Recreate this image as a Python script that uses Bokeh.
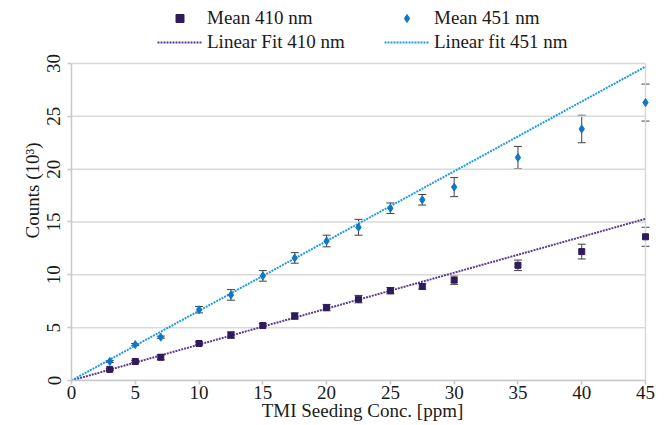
from bokeh.plotting import figure
from bokeh.models import (ColumnDataSource, Whisker, TeeHead, Legend, LegendItem,
                          Range1d, FixedTicker)
from bokeh.embed import file_html
from bokeh.resources import INLINE

conc = [3, 5, 7, 10, 12.5, 15, 17.5, 20, 22.5, 25, 27.5, 30, 35, 40, 45]
mean_410 = [1.05, 1.8, 2.2, 3.5, 4.3, 5.2, 6.1, 6.9, 7.7, 8.5, 8.9, 9.5, 10.9, 12.2, 13.6]
err_410 = [0.1, 0.1, 0.25, 0.15, 0.3, 0.2, 0.3, 0.3, 0.35, 0.3, 0.25, 0.4, 0.5, 0.7, 0.9]
mean_451 = [1.8, 3.4, 4.1, 6.7, 8.1, 9.9, 11.6, 13.2, 14.5, 16.3, 17.1, 18.3, 21.1, 23.8, 26.3]
err_451 = [0.1, 0.1, 0.1, 0.3, 0.5, 0.5, 0.5, 0.55, 0.75, 0.5, 0.5, 0.9, 1.05, 1.3, 1.75]
fit_x = [0, 45]
fit_410 = [0, 15.3]
fit_451 = [0, 29.7]
x_ticks = [0, 5, 10, 15, 20, 25, 30, 35, 40, 45]
y_ticks = [0, 5, 10, 15, 20, 25, 30]
X_MAX = 45
Y_MAX = 30
X_VIEW_RIGHT = 45.627  # a little room so edge markers are not clipped
Y_VIEW_TOP = 35.96     # extra room above the axes for the legend

C410 = "#2f1a5c"
C451 = "#0b78c9"
CF410 = "#5a3d8e"
CF451 = "#1e9be3"
FONT = "Liberation Serif"
GRID = "#d9d9d9"
AXC = "#c8c8c8"
TXT = "#1a1a1a"

src = ColumnDataSource(dict(
    x=conc,
    y410=mean_410,
    lo410=[m - e for m, e in zip(mean_410, err_410)],
    hi410=[m + e for m, e in zip(mean_410, err_410)],
    y451=mean_451,
    lo451=[m - e for m, e in zip(mean_451, err_451)],
    hi451=[m + e for m, e in zip(mean_451, err_451)],
))

p = figure(width=666, height=425, output_backend="svg", toolbar_location=None,
           x_range=Range1d(0, X_VIEW_RIGHT), y_range=Range1d(0, Y_VIEW_TOP),
           min_border_left=71, min_border_right=13, min_border_top=0,
           min_border_bottom=45)

p.background_fill_color = "white"
p.border_fill_color = "white"
p.outline_line_color = None
p.xgrid.visible = False
p.ygrid.visible = False

# horizontal gridlines and right border, limited to the axes' extent
p.segment(x0=[0] * len(y_ticks), x1=[X_MAX] * len(y_ticks), y0=y_ticks, y1=y_ticks,
          line_color=GRID, line_width=1.5)
p.segment(x0=[X_MAX], x1=[X_MAX], y0=[0], y1=[Y_MAX], line_color=GRID, line_width=1.5)

for ax in (p.xaxis[0], p.yaxis[0]):
    ax.axis_line_color = AXC
    ax.axis_line_width = 1.5
    ax.major_tick_line_color = AXC
    ax.major_tick_line_width = 1.5
    ax.major_tick_in = 0
    ax.major_tick_out = 4
    ax.minor_tick_line_color = None
    ax.major_label_text_font = FONT
    ax.major_label_text_font_size = "19px"
    ax.major_label_text_color = TXT
    ax.axis_label_text_font = FONT
    ax.axis_label_text_font_size = "19px"
    ax.axis_label_text_font_style = "normal"
    ax.axis_label_text_color = TXT

p.xaxis.bounds = (0, X_MAX)
p.yaxis.bounds = (0, Y_MAX)
p.yaxis.major_label_orientation = "vertical"
p.xaxis.ticker = FixedTicker(ticks=x_ticks)
p.yaxis.ticker = FixedTicker(ticks=y_ticks)
p.xaxis.axis_label = "TMI Seeding Conc. [ppm]"
p.yaxis.axis_label = "Counts (10³)"
p.xaxis.major_label_standoff = 1
p.xaxis.axis_label_standoff = -2
p.yaxis.major_label_standoff = 7
p.yaxis.axis_label_standoff = 2

# fit lines
l410 = p.line(fit_x, fit_410, line_color=CF410, line_width=2, line_dash="2 1")
l451 = p.line(fit_x, fit_451, line_color=CF451, line_width=2, line_dash="2 1")

# error bars
for lo, hi in (("lo410", "hi410"), ("lo451", "hi451")):
    w = Whisker(source=src, base="x", lower=lo, upper=hi,
                line_color="#404040", line_width=1,
                upper_head=TeeHead(size=8, line_color="#404040", line_width=1),
                lower_head=TeeHead(size=8, line_color="#404040", line_width=1))
    p.add_layout(w)

m410 = p.scatter("x", "y410", source=src, marker="square", size=6,
                 fill_color=C410, line_color=C410)
m451 = p.scatter("x", "y451", source=src, marker="diamond", size=8,
                 fill_color=C451, line_color=C451)


def make_legend(items, loc):
    lg = Legend(items=items, orientation="vertical", location=loc)
    lg.label_text_font = FONT
    lg.label_text_font_size = "19px"
    lg.label_text_color = TXT
    lg.glyph_width = 45
    lg.glyph_height = 20
    lg.label_height = 20
    lg.label_standoff = 5
    lg.spacing = 2
    lg.padding = 0
    lg.margin = 0
    lg.border_line_color = None
    lg.background_fill_alpha = 0
    return lg


leg1 = make_legend([
    LegendItem(label="Mean 410 nm", renderers=[m410]),
    LegendItem(label="Linear Fit 410 nm", renderers=[l410]),
], (86, 327))
leg2 = make_legend([
    LegendItem(label="Mean 451 nm", renderers=[m451]),
    LegendItem(label="Linear fit 451 nm", renderers=[l451]),
], (313, 327))
p.add_layout(leg1, "center")
p.add_layout(leg2, "center")

open("out.html", "w").write(file_html(p, INLINE))
